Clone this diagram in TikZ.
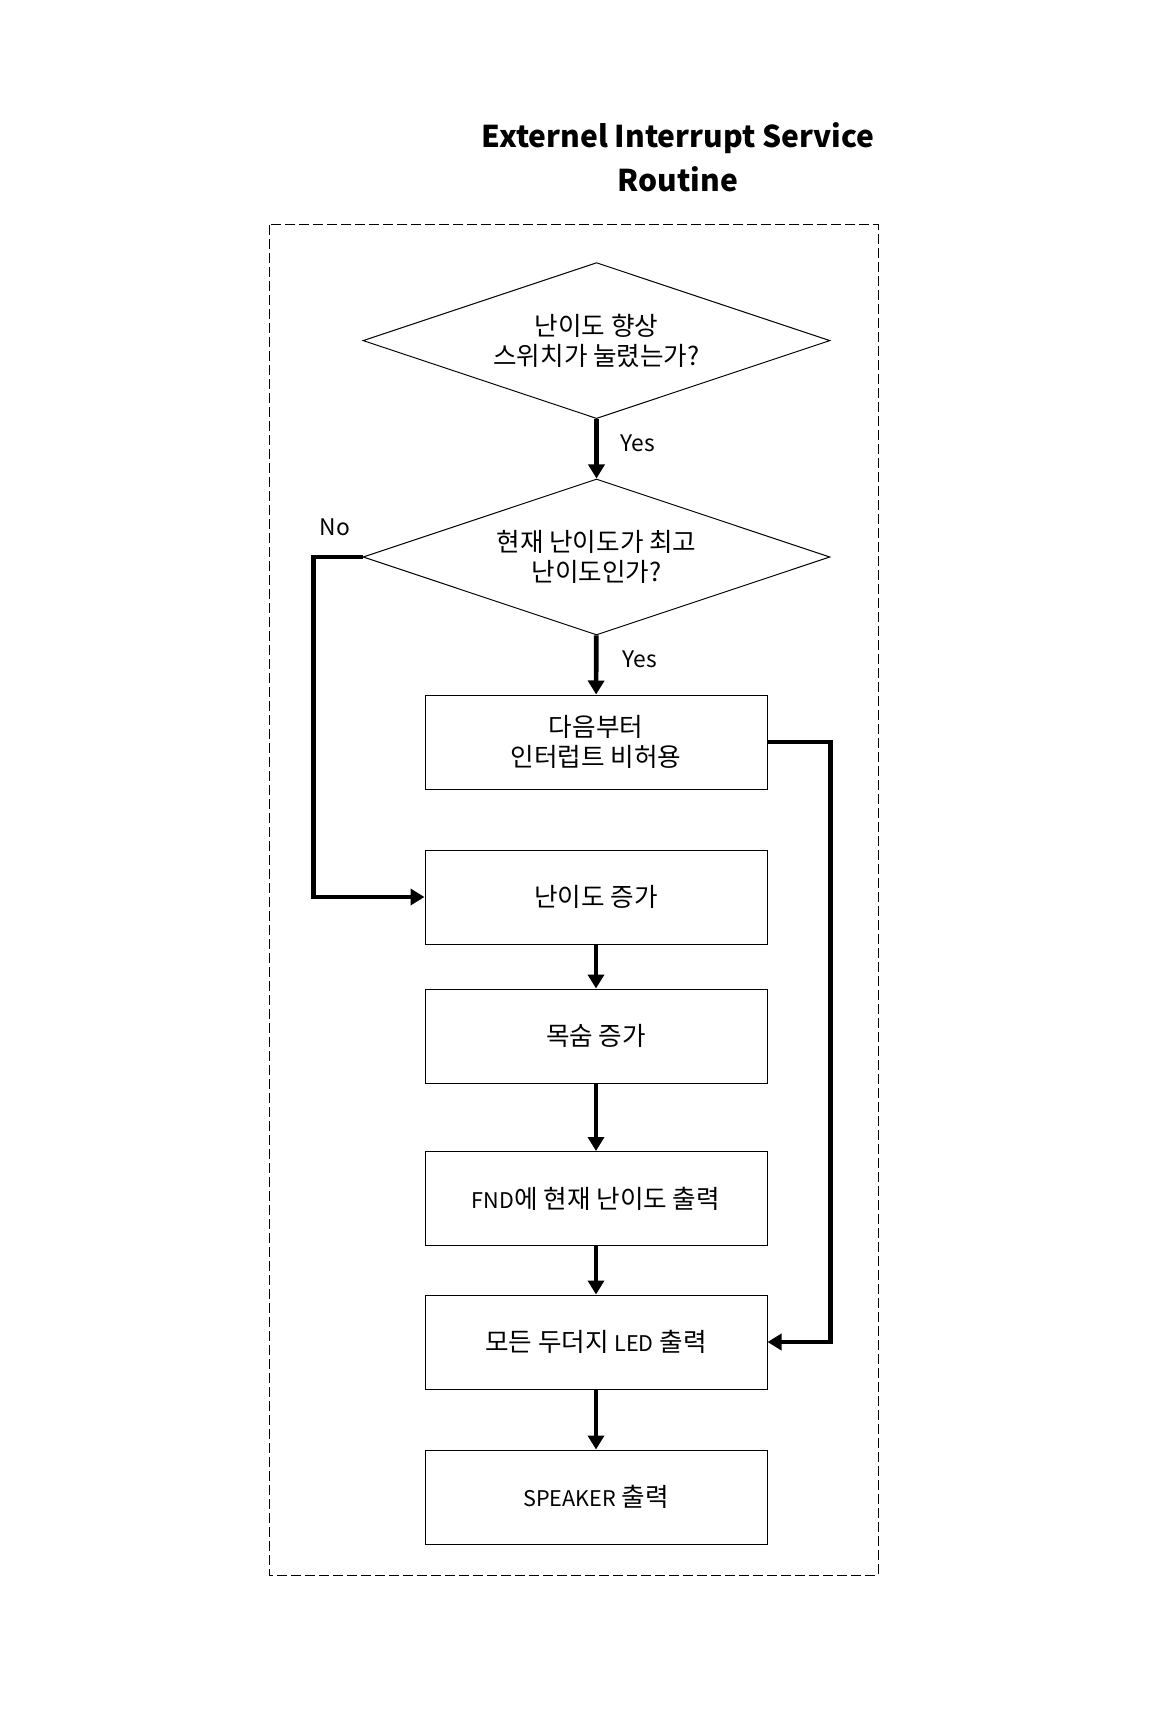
\documentclass[tikz,border=0pt]{standalone}
\usepackage{fontspec}
\setmainfont{Noto Sans CJK KR}
\usetikzlibrary{shapes.geometric}
\usetikzlibrary{arrows.meta}
\newcommand{\latinword}[1]{{\fontsize{10.8}{15}\selectfont #1}}

\begin{document}
\begin{tikzpicture}
		[x=0.5pt, y=-0.5pt,
			every node/.style={font=\fontsize{12.8}{15}\selectfont},
			box/.style={draw, line width=0.5pt, minimum width=171pt, minimum height=47pt, align=center, inner sep=0pt},
			decision/.style={draw, diamond, aspect=3, line width=0.5pt, minimum width=233.5pt, minimum height=78pt, align=center, inner sep=0pt},
			flow/.style={line width=2.3pt, -{Triangle[length=7pt, width=8pt]}},
			answer/.style={anchor=west, font=\fontsize{11.4}{15}\selectfont},
			frame/.style={line width=0.5pt, dash pattern=on 5pt off 2pt}]
		\useasboundingbox (0,0) rectangle (1159,1722);
		% title and dashed frame
		\node[font=\fontsize{15}{22}\selectfont\bfseries, align=center] (title) at (678,157) {Externel Interrupt Service\\Routine};
		\draw[frame] (269,225) rectangle (878,1575);
		% decisions
		\node[decision] (d1) at (596.5,340.6) {난이도 향상\\스위치가 눌렸는가?};
		\node[decision] (d2) at (596.5,557) {현재 난이도가 최고\\난이도인가?};
		% process boxes
		\node[box] (b1) at (596,742) {다음부터\\인터럽트 비허용};
		\node[box] (b2) at (596,897) {난이도 증가};
		\node[box] (b3) at (596,1036) {목숨 증가};
		\node[box] (b4) at (596,1198.5) {\latinword{FND}에 현재 난이도 출력};
		\node[box] (b5) at (596,1342) {모든 두더지 \latinword{LED} 출력};
		\node[box] (b6) at (596,1497) {\latinword{SPEAKER} 출력};
		% branch labels
		\node[answer] (yes1) at (613.5,443) {Yes};
		\node[answer] (yes2) at (615.5,659) {Yes};
		\node[answer, anchor=center] (no) at (335,527) {No};
		% connectors
		\draw[flow] (d1) -- (d2);
		\draw[flow] (d2) -- (b1);
		\draw[flow] (d2.west) -- ++(-49,0) |- (b2.west);
		\draw[flow] (b1.east) -- ++(63,0) |- (b5.east);
		\foreach \from/\to in {b2/b3, b3/b4, b4/b5, b5/b6}
			\draw[flow] (\from) -- (\to);
	\end{tikzpicture}
\end{document}
